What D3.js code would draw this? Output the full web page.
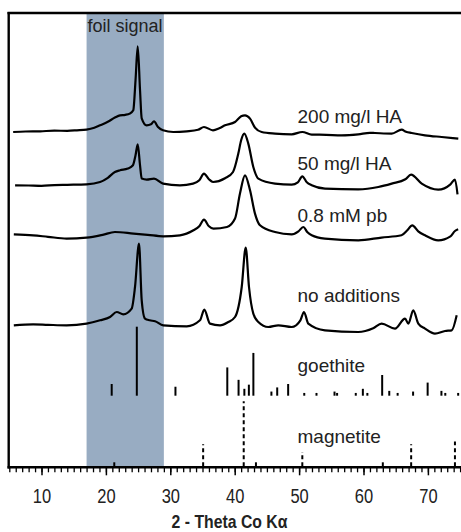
<!DOCTYPE html>
<html>
<head>
<meta charset="utf-8">
<script src="https://cdn.jsdelivr.net/npm/d3@7"></script>
<style>
  html, body { margin: 0; padding: 0; background: #fff; }
  svg { display: block; font-family: "Liberation Sans", Arial, sans-serif; }
</style>
</head>
<body>
<svg id="chart" width="461" height="532"></svg>
<script>
// ---------------- DATA ----------------
// 2θ (Co Kα) vs intensity (a.u., relative to each trace's own baseline)
const traceNames = ["200 mg/l HA", "50 mg/l HA", "0.8 mM pb", "no additions"];
const traceOffsets = [327, 275, 226, 133];

const trace200HA = [
  [5.6,8.3],[7.5,8.8],[9.8,9],[12,9.6],[14,9.5],[15.5,10],[17.0,10.7],[18.2,12.5],[19.1,15],[20.3,18.5],
  [21.4,22.7],[22.2,25],[23.0,25.5],[23.7,26.7],[24.25,30],[24.6,60],[24.94,94],[25.3,50],[25.56,22],
  [26.33,15],[27.0,16],[27.47,19],[28.09,13.3],[28.87,10],[30.47,8.3],[32.55,9],[34.3,10.5],
  [35.23,13.3],[36.63,10],[37.6,12],[38.5,15],[40.05,18.3],[41.0,24],[41.6,25],[42.38,21.7],
  [43.15,12.7],[44.19,8.3],[46.26,6.7],[48.85,6],[50.5,8.3],[51.96,5.7],[54.2,5.5],[56.6,5],
  [59.19,6],[61.0,7.5],[61.78,7.3],[64.38,6.7],[65.93,10.7],[66.6,8.5],[67.48,7.3],[69.55,5],
  [72.14,3.3],[74.72,1.7]
];
const trace50HA = [
  [5.9,7],[8,6.8],[10,6.5],[12,7.2],[14,7.5],[17.0,8],[19.1,10.3],[20.3,14.5],[21.4,20.3],[22.2,22],
  [23.4,23.7],[24.2,27],[24.6,37],[24.94,48],[25.3,27],[25.56,13.7],[26.33,12.7],[27.47,13.7],
  [28.87,8.7],[31.5,7],[33.53,8.7],[34.5,12],[35.23,18.7],[36.0,13],[36.63,10.3],[38.5,14],
  [39.74,20.3],[40.56,38.7],[41.0,52],[41.49,58.7],[42.11,48.7],[42.89,25.3],[43.67,13.7],
  [46.26,8.7],[48.85,7.7],[49.8,10],[50.5,16],[51.2,10],[51.96,7],[54.02,3.7],[59.19,3],
  [62.3,5.3],[64.38,8.7],[66.5,13],[67.38,17.7],[69.04,8.7],[71.6,2.7],[73.5,8],[74.2,12.7],[74.6,-2]
];
const trace08Pb = [
  [5.7,7],[8.7,6],[11,4.5],[13.9,2.7],[17.0,3.7],[19.5,6.5],[21.4,9.3],[24.3,7.7],[26.5,6.5],
  [28.9,5],[31.5,6],[33.6,11],[34.5,15],[35.23,21.7],[36.0,15],[36.7,12.7],[38.8,14.3],[40.05,22.7],
  [40.82,47.7],[41.6,66],[42.38,51],[43.15,27.7],[43.93,16],[46.26,9.3],[48.85,7],[49.9,10],
  [50.65,14.3],[51.3,9],[51.96,6],[54.0,2.7],[59.2,1],[62.8,3.7],[65.9,6],[66.8,11],[67.58,16],
  [68.5,10],[69.55,6],[71.6,1],[73.5,5],[74.2,10.3],[74.7,12]
];
const traceNoAdd = [
  [5.7,9],[8.7,10],[11,9.5],[13.9,9],[17.0,10.7],[19.1,14],[20.64,17.3],[21.68,22.3],[22.7,20],
  [24.0,25.7],[24.52,47.3],[25.14,90.7],[25.56,34],[26.07,15.7],[26.8,14],[27.63,13],[28.91,9],
  [32.55,8],[34.61,14],[35.28,24.7],[36.16,10.7],[37.72,9],[39.0,12.3],[40.05,17.3],[41.09,47.3],
  [41.71,86.7],[42.22,47.3],[42.89,20.7],[43.67,12.3],[45.22,7.3],[46.77,9],[48.85,7.3],[50.2,14],
  [50.76,22.3],[51.43,10.7],[54.02,4],[59.19,2.3],[61.5,6],[62.82,10.7],[64.89,5.7],[66.45,15.7],
  [66.96,10.7],[67.73,24],[68.51,10.7],[69.55,5.7],[71.1,0.7],[72.66,3.3],[73.7,4],[74.47,19]
];

// Reference stick patterns: [2θ, relative intensity %]
const goethiteSticks = [
  [20.9,17],[24.8,100],[30.8,13],[38.85,41],[40.6,23],[41.5,10],[42.2,16],[42.9,62],[45.7,6],
  [46.6,12],[48.3,17],[50.8,4],[52.7,4],[55.5,6],[55.9,4],[58.8,4],[59.9,10],[60.6,4],[62.9,30],
  [64.0,7],[65.3,4],[67.7,6],[69.96,19],[72.1,7],[72.7,4],[74.7,4]
];
const magnetiteSticks = [
  [21.3,9],[35.1,34],[41.4,100],[43.3,9],[50.5,22],[63.0,9],[67.4,34],[74.2,38]
];

const foilBand = [17, 29];
const majorTicks = [10, 20, 30, 40, 50, 60, 70];
const minorTicks = d3.range(5, 76, 1);
const axisTitle = "2 - Theta Co Kα";
const bandLabel = "foil signal";
const goethiteLabel = "goethite";
const magnetiteLabel = "magnetite";

// ---------------- SCALES ----------------
const svg = d3.select("#chart");
const x = d3.scaleLinear().domain([5, 75]).range([9.3, 460.1]);
const y = d3.scaleLinear().domain([0, 455]).range([467.3, 12.3]);
const goethiteBase = 71.6;           // a.u. level of goethite stick baseline
const stickG = d3.scaleLinear().domain([0, 100]).range([0, 69]);
const stickM = d3.scaleLinear().domain([0, 100]).range([0, 65]);

// foil band
svg.append("rect")
  .attr("x", x(foilBand[0])).attr("y", y(455))
  .attr("width", x(foilBand[1]) - x(foilBand[0]))
  .attr("height", y(0) - y(455))
  .attr("fill", "#98acc2");

svg.append("text").attr("x", x(foilBand[0]) + 1).attr("y", 31.7)
  .attr("font-size", 18).attr("fill", "#222").text(bandLabel);

// traces
const line = d3.line().x(d => x(d[0])).y(d => y(d[1])).curve(d3.curveMonotoneX);
const traces = [trace200HA, trace50HA, trace08Pb, traceNoAdd];
traces.forEach((tr, i) => {
  const off = traceOffsets[i];
  svg.append("path")
    .datum(tr.map(d => [d[0], d[1] + off]))
    .attr("d", line)
    .attr("fill", "none").attr("stroke", "#000")
    .attr("stroke-width", 2.2).attr("stroke-linejoin", "round");
});

// trace labels
const labelBaselines = [122.7, 170, 221.7, 301.7];
traceNames.forEach((t, i) => {
  svg.append("text").attr("x", 297.5).attr("y", labelBaselines[i])
    .attr("font-size", 19).attr("fill", "#222").text(t);
});

// goethite sticks
svg.append("g").selectAll("line").data(goethiteSticks).join("line")
  .attr("x1", d => x(d[0])).attr("x2", d => x(d[0]))
  .attr("y1", y(goethiteBase)).attr("y2", d => y(goethiteBase) - stickG(d[1]))
  .attr("stroke", "#000").attr("stroke-width", 2);
svg.append("text").attr("x", 297.5).attr("y", 371.7)
  .attr("font-size", 19).attr("fill", "#222").text(goethiteLabel);

// magnetite sticks (dashed)
svg.append("g").selectAll("line").data(magnetiteSticks).join("line")
  .attr("x1", d => x(d[0])).attr("x2", d => x(d[0]))
  .attr("y1", y(0) - 1).attr("y2", d => y(0) - 1 - stickM(d[1]))
  .attr("stroke", "#000").attr("stroke-width", 2)
  .attr("stroke-dasharray", "4,3");
svg.append("text").attr("x", 297.5).attr("y", 443.3)
  .attr("font-size", 19).attr("fill", "#222").text(magnetiteLabel);

// frame: left and top
svg.append("line").attr("x1", 8.7).attr("x2", 8.7).attr("y1", 12).attr("y2", 468.5)
  .attr("stroke", "#000").attr("stroke-width", 2.4);
svg.append("line").attr("x1", 7.5).attr("x2", 461).attr("y1", 13).attr("y2", 13)
  .attr("stroke", "#000").attr("stroke-width", 2.4);

// x axis
const gAxis = svg.append("g").attr("transform", `translate(0,${y(0)})`);
gAxis.append("g")
  .call(d3.axisBottom(x).tickValues(minorTicks).tickSize(5).tickSizeOuter(0).tickFormat(""))
  .call(g => g.select(".domain").attr("stroke-width", 2.4).attr("d", `M7.5,0H461`))
  .call(g => g.selectAll(".tick line").attr("stroke-width", 1.3));
gAxis.append("g")
  .call(d3.axisBottom(x).tickValues(majorTicks).tickSize(8).tickSizeOuter(0).tickFormat(d3.format("d")))
  .call(g => g.select(".domain").remove())
  .call(g => g.selectAll(".tick line").attr("stroke-width", 1.5))
  .call(g => g.selectAll(".tick text")
      .attr("font-family", "Liberation Sans, Arial, sans-serif")
      .attr("font-size", 16.5).attr("fill", "#222")
      .attr("y", 35.4 / 1.2).attr("dy", 0)
      .attr("transform", "scale(1,1.2)"));

// axis title
svg.append("g").attr("transform", "translate(229.5,527.5) scale(1,1.15)")
  .append("text").attr("text-anchor", "middle")
  .attr("font-size", 15.8).attr("font-weight", "bold").attr("fill", "#222")
  .text(axisTitle);
</script>
</body>
</html>
